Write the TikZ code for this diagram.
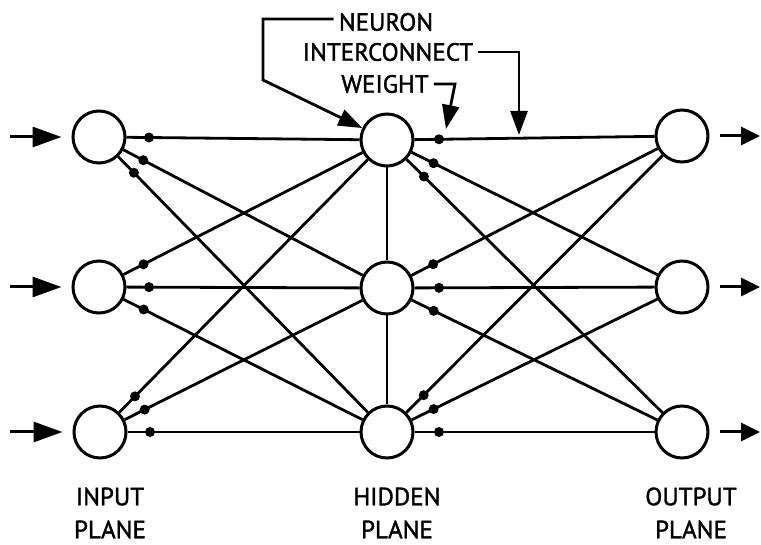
\documentclass[tikz,border=0pt]{standalone}
\usepackage{fontspec}
\setmainfont{PT Sans}
\newfontfamily\lblfont{PT Sans}[FakeBold=1.4]
\usetikzlibrary{arrows.meta,calc}
\begin{document}
\begin{tikzpicture}[x=1pt,y=-1pt,
  neuron/.style={circle,draw,line width=3pt,minimum size=52pt,inner sep=0pt},
  link/.style={line width=2.8pt},
  lbl/.style={font=\lblfont\fontsize{25}{33}\selectfont,inner sep=5pt,align=center},
  plane/.style={lbl,inner sep=0pt},
  inarrow/.style={line width=3pt,-{Triangle[length=29pt,width=20pt]}},
  outarrow/.style={line width=3pt,-{Triangle[length=19pt,width=18pt]}},
  callout/.style={line width=2.8pt,-{Triangle[length=24pt,width=17pt]}}]
\useasboundingbox (0,0) rectangle (761,545);

% neurons
\node[neuron] (i1) at (99,137) {};
\node[neuron] (i2) at (99,287) {};
\node[neuron] (i3) at (100,432) {};
\node[neuron] (h1) at (387,140) {};
\node[neuron] (h2) at (387,288) {};
\node[neuron] (h3) at (387,432) {};
\node[neuron] (o1) at (682,136) {};
\node[neuron] (o2) at (682,287) {};
\node[neuron] (o3) at (682,432) {};

% interconnects with weights
\foreach \a in {1,2,3}{
  \foreach \b in {1,2,3}{
    \draw[link] (i\a) -- (h\b);
    \fill ($(i\a)!50pt!(h\b)$) circle (5);
    \draw[link] (h\a) -- (o\b);
    \fill ($(h\a)!52pt!(o\b)$) circle (5);
  }
}
\draw[link] (h1) -- (h2);
\draw[link] (h2) -- (h3);

% input and output arrows
\coordinate (a1) at (10,137);
\coordinate (a2) at (10,287);
\coordinate (a3) at (10,432);
\coordinate (b1) at (760,136);
\coordinate (b2) at (760,287);
\coordinate (b3) at (760,432);
\foreach \k in {1,2,3}{
  \draw[inarrow,shorten >=10pt] (a\k) -- (i\k);
  \draw[outarrow,shorten <=10pt] (o\k) -- (b\k);
}

% callouts
\node[lbl] (neu) at (386,22) {NEURON};
\node[lbl] (int) at (388,52) {INTERCONNECT};
\node[lbl] (wei) at (385,84) {WEIGHT};
\coordinate (n1) at (263,19);
\coordinate (n2) at (263,80);
\draw[callout] (neu.west |- n1) -- (n1) -- (n2) -- (h1);
\coordinate (k1) at (519,52);
\coordinate (k2) at (519,135);
\draw[callout] (int.east) -- (k1) -- (k2);
\coordinate (m1) at (455,84);
\coordinate (m2) at (446,129);
\draw[callout] (wei.east) -- (m1) -- (m2);

% plane labels
\node[plane] (inp) at (110,513) {INPUT\\PLANE};
\node[plane] (hid) at (397,513) {HIDDEN\\PLANE};
\node[plane] (outp) at (691,513) {OUTPUT\\PLANE};
\end{tikzpicture}
\end{document}
